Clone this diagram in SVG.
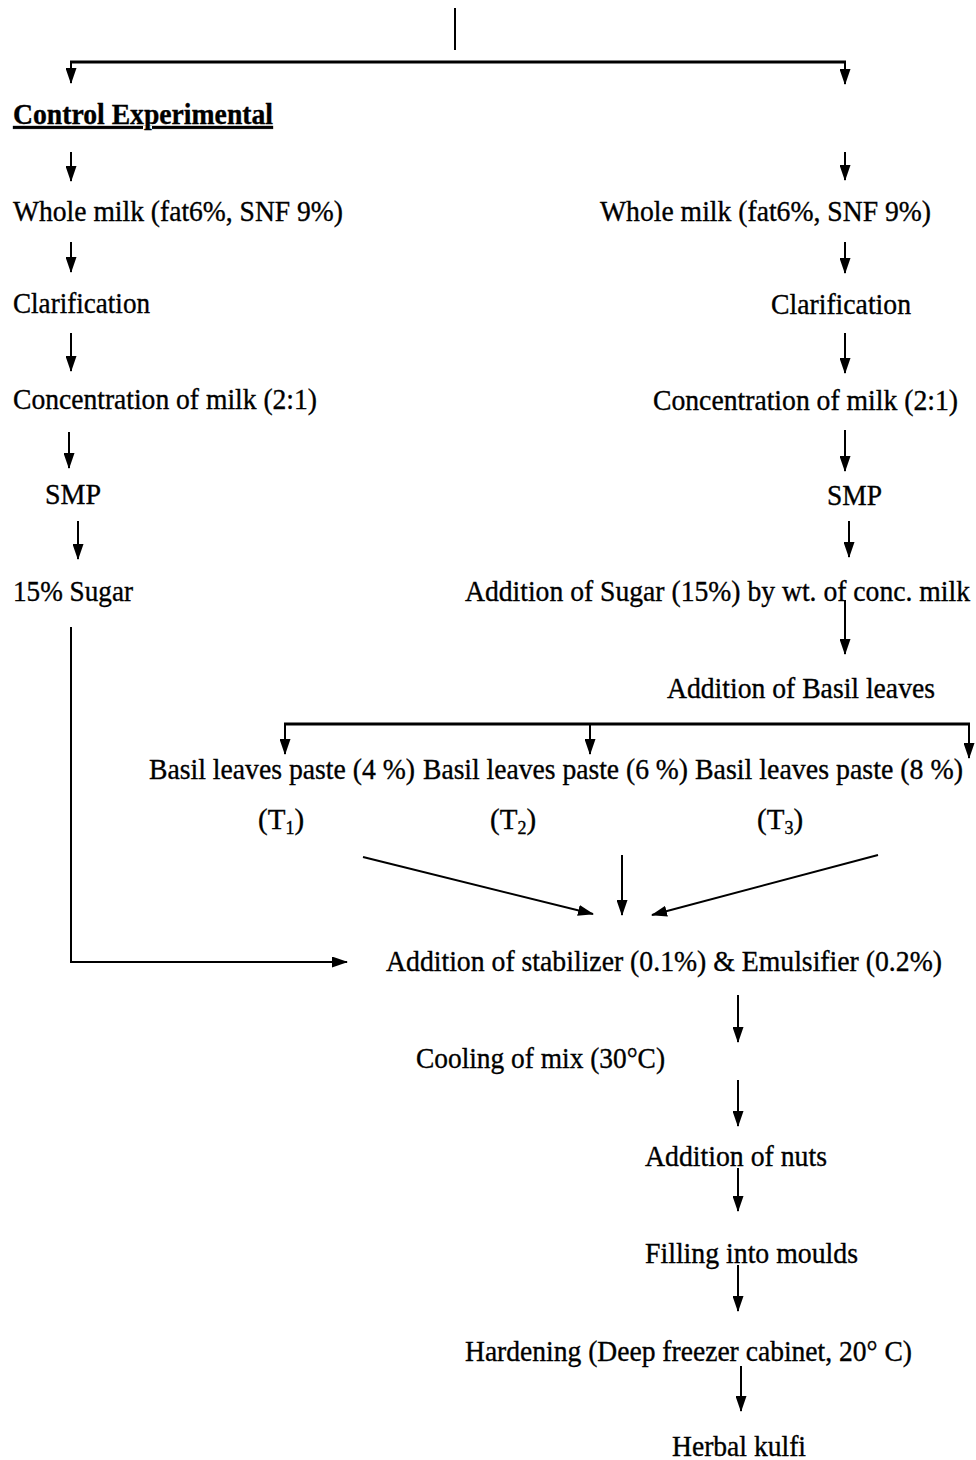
<svg xmlns="http://www.w3.org/2000/svg" width="976" height="1460" viewBox="0 0 976 1460">
  <style>
    text { font-family: "Liberation Serif", "Times New Roman", serif; font-size: 29px; fill: #000; stroke: #000; stroke-width: 0.35; }
    .title { font-weight: bold; text-decoration: underline; }
    .sub { font-size: 18px; }
    .wire { stroke: #000; stroke-width: 2; fill: none; }
    .bar { stroke: #000; stroke-width: 3; fill: none; }
    .arrow { stroke: #000; stroke-width: 2; fill: none; marker-end: url(#head); }
  </style>
  <defs>
    <marker id="head" viewBox="0 0 16 11" refX="15" refY="5.5" markerWidth="16" markerHeight="11" markerUnits="userSpaceOnUse" orient="auto">
      <path d="M0,0 L16,5.5 L0,11 z" fill="#000"/>
    </marker>
  </defs>
  <rect width="976" height="1460" fill="#fff"/>

  <!-- connectors -->
  <g id="connectors">
    <!-- top split -->
    <line class="wire" x1="455" y1="8" x2="455" y2="50"/>
    <line class="bar" x1="70" y1="62" x2="846" y2="62"/>
    <line class="arrow" x1="71" y1="62" x2="71" y2="83"/>
    <line class="arrow" x1="845" y1="62" x2="845" y2="84"/>

    <!-- control column -->
    <line class="arrow" x1="71" y1="152" x2="71" y2="181"/>
    <line class="arrow" x1="71" y1="242" x2="71" y2="272"/>
    <line class="arrow" x1="71" y1="333" x2="71" y2="371"/>
    <line class="arrow" x1="69" y1="432" x2="69" y2="468"/>
    <line class="arrow" x1="78" y1="521" x2="78" y2="559"/>
    <polyline class="wire" points="71,627 71,962 330,962"/>
    <line class="arrow" x1="320" y1="962" x2="347" y2="962"/>

    <!-- experimental column -->
    <line class="arrow" x1="845" y1="152" x2="845" y2="180"/>
    <line class="arrow" x1="845" y1="242" x2="845" y2="273"/>
    <line class="arrow" x1="845" y1="333" x2="845" y2="373"/>
    <line class="arrow" x1="845" y1="430" x2="845" y2="471"/>
    <line class="arrow" x1="849" y1="521" x2="849" y2="557"/>
    <line class="arrow" x1="845" y1="600" x2="845" y2="654"/>

    <!-- basil branch -->
    <line class="bar" x1="284" y1="724" x2="970" y2="724"/>
    <line class="arrow" x1="285" y1="724" x2="285" y2="754"/>
    <line class="arrow" x1="590" y1="724" x2="590" y2="754"/>
    <line class="arrow" x1="969" y1="724" x2="969" y2="758"/>

    <!-- treatments merge -->
    <line class="arrow" x1="363" y1="857" x2="593" y2="914"/>
    <line class="arrow" x1="622" y1="855" x2="622" y2="915"/>
    <line class="arrow" x1="878" y1="855" x2="652" y2="915"/>

    <!-- common line -->
    <line class="arrow" x1="738" y1="995" x2="738" y2="1042"/>
    <line class="arrow" x1="738" y1="1080" x2="738" y2="1126"/>
    <line class="arrow" x1="738" y1="1168" x2="738" y2="1211"/>
    <line class="arrow" x1="738" y1="1265" x2="738" y2="1311"/>
    <line class="arrow" x1="741" y1="1366" x2="741" y2="1411"/>
  </g>

  <g id="title"><text class="title" x="13" y="124" textLength="260" lengthAdjust="spacingAndGlyphs">Control Experimental</text></g>

  <!-- control -->
  <g id="c-milk"><text x="13" y="221" textLength="330" lengthAdjust="spacingAndGlyphs">Whole milk (fat6%, SNF 9%)</text></g>
  <g id="c-clar"><text x="13" y="313" textLength="137" lengthAdjust="spacingAndGlyphs">Clarification</text></g>
  <g id="c-conc"><text x="13" y="409" textLength="304" lengthAdjust="spacingAndGlyphs">Concentration of milk (2:1)</text></g>
  <g id="c-smp"><text x="45" y="504" textLength="56" lengthAdjust="spacingAndGlyphs">SMP</text></g>
  <g id="c-sugar"><text x="13" y="601" textLength="120" lengthAdjust="spacingAndGlyphs">15% Sugar</text></g>

  <!-- experimental -->
  <g id="e-milk"><text x="600" y="221" textLength="331" lengthAdjust="spacingAndGlyphs">Whole milk (fat6%, SNF 9%)</text></g>
  <g id="e-clar"><text x="771" y="314" textLength="140" lengthAdjust="spacingAndGlyphs">Clarification</text></g>
  <g id="e-conc"><text x="653" y="410" textLength="305" lengthAdjust="spacingAndGlyphs">Concentration of milk (2:1)</text></g>
  <g id="e-smp"><text x="827" y="505" textLength="55" lengthAdjust="spacingAndGlyphs">SMP</text></g>
  <g id="e-sugar"><text x="465" y="601" textLength="505" lengthAdjust="spacingAndGlyphs">Addition of Sugar (15%) by wt. of conc. milk</text></g>
  <g id="e-basil"><text x="667" y="698" textLength="268" lengthAdjust="spacingAndGlyphs">Addition of Basil leaves</text></g>

  <!-- treatments -->
  <g id="t1">
    <text x="149" y="779" textLength="266" lengthAdjust="spacingAndGlyphs">Basil leaves paste (4 %)</text>
    <text x="258" y="829">(T<tspan class="sub" dy="5">1</tspan><tspan dy="-5">)</tspan></text>
  </g>
  <g id="t2">
    <text x="423" y="779" textLength="265" lengthAdjust="spacingAndGlyphs">Basil leaves paste (6 %)</text>
    <text x="490" y="829">(T<tspan class="sub" dy="5">2</tspan><tspan dy="-5">)</tspan></text>
  </g>
  <g id="t3">
    <text x="695" y="779" textLength="268" lengthAdjust="spacingAndGlyphs">Basil leaves paste (8 %)</text>
    <text x="757" y="829">(T<tspan class="sub" dy="5">3</tspan><tspan dy="-5">)</tspan></text>
  </g>

  <!-- common steps -->
  <g id="stab"><text x="386" y="971" textLength="556" lengthAdjust="spacingAndGlyphs">Addition of stabilizer (0.1%) &amp; Emulsifier (0.2%)</text></g>
  <g id="cool"><text x="416" y="1068" textLength="249" lengthAdjust="spacingAndGlyphs">Cooling of mix (30°C)</text></g>
  <g id="nuts"><text x="645" y="1166" textLength="182" lengthAdjust="spacingAndGlyphs">Addition of nuts</text></g>
  <g id="fill"><text x="645" y="1263" textLength="213" lengthAdjust="spacingAndGlyphs">Filling into moulds</text></g>
  <g id="hard"><text x="465" y="1361" textLength="447" lengthAdjust="spacingAndGlyphs">Hardening (Deep freezer cabinet, 20° C)</text></g>
  <g id="kulfi"><text x="672" y="1456" textLength="134" lengthAdjust="spacingAndGlyphs">Herbal kulfi</text></g>
</svg>
